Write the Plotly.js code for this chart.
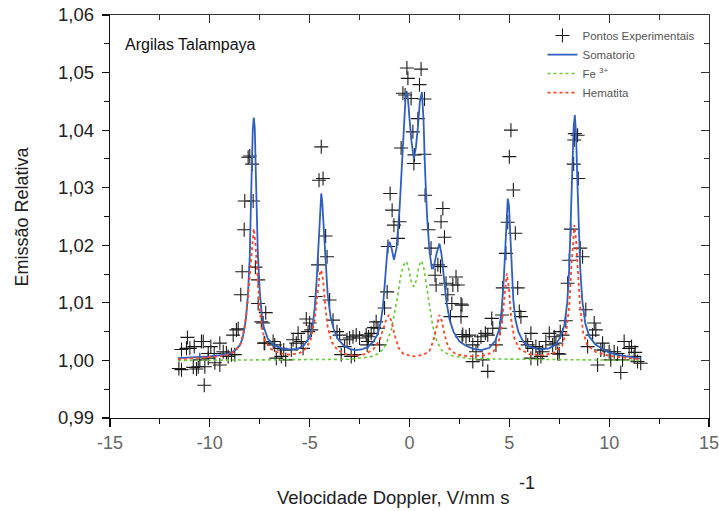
<!DOCTYPE html>
<html>
<head>
<meta charset="utf-8">
<script src="https://cdn.plot.ly/plotly-3.0.1.min.js"></script>
<style>html,body{margin:0;padding:0;background:#fff;}#chart{width:719px;height:511px;}</style>
</head>
<body>
<div id="chart"></div>
<script>
// Tick labels
const xTickVals = [-15,-10,-5,0,5,10,15];
const xTickText = ['-15','-10','-5','0','5','10','15'];

// Experimental points (velocity mm/s, relative emission)
const expV = [-8.08,-8.0,-7.88,-8.25,-7.83,-8.28,-8.38,-7.72,-7.58,-8.45,-7.58,-7.42,-7.28,-8.67,-8.83,-11.12,-11.42,-11.17,-11.0,-10.78,-10.42,-9.95,-9.5,-10.08,-9.78,-9.33,-9.08,-8.75,-11.55,-11.42,-10.83,-10.67,-10.58,-10.25,-9.75,-9.5,-10.5,-10.08,-10.28,-9.17,-8.92,-8.58,-10.33,
  -4.42,-4.53,-4.33,-4.2,-4.13,-4.58,-4.7,-4.0,-3.83,-7.2,-7.33,-7.25,-6.83,-6.75,-6.47,-6.3,-5.92,-6.67,-6.42,-6.2,-5.83,-5.58,-5.67,-5.42,-5.33,-5.17,-5.0,-4.92,-5.08,-3.63,-3.5,-3.13,-3.0,-3.25,-2.83,-2.67,-2.5,-2.17,-2.08,-3.42,-2.92,-2.75,
  -0.13,0.58,-0.08,0.5,-0.33,-0.22,0.08,0.75,0.42,0.17,-0.42,0.25,0.75,0.22,-0.97,-0.87,-0.78,-0.5,-0.58,-1.08,0.78,1.67,1.58,1.75,0.95,1.08,1.42,1.55,1.28,1.33,1.83,2.17,2.33,2.42,1.92,2.12,2.58,2.05,2.67,-1.12,-1.25,-1.67,-1.78,-1.58,-1.92,-2.05,-2.12,-1.5,
  5.08,5.0,5.2,4.92,5.3,4.83,4.67,5.42,4.63,5.5,5.58,4.53,4.33,4.12,4.17,3.92,3.8,3.58,3.42,3.17,3.0,2.83,2.63,2.63,2.58,3.33,3.17,3.67,3.92,5.83,5.92,6.08,6.17,6.33,6.5,6.58,6.67,6.83,7.0,7.17,7.42,6.08,6.42,
  8.28,8.42,8.25,8.22,8.45,8.08,8.55,8.67,8.0,7.92,8.83,7.83,7.55,7.67,7.25,7.33,7.5,9.25,9.33,9.17,8.92,9.67,9.75,10.0,10.25,10.42,9.58,9.42,10.08,10.58,10.75,11.0,11.12,10.67,11.25,11.42,11.58,11.3];
const expY = [1.0353,1.0355,1.0341,1.0277,1.0277,1.0227,1.0154,1.0162,1.0140,1.0114,1.0099,1.0067,1.0030,1.0053,1.0044,1.0040,1.0019,1.0021,1.0021,1.0024,1.0033,1.0024,1.0030,1.0012,1.0012,1.0015,1.0007,1.0010,0.9986,0.9984,0.9988,0.9985,0.9989,0.9989,0.9996,0.9992,1.0001,1.0004,0.9957,1.0013,1.0010,1.0055,1.0033,
  1.0371,1.0313,1.0316,1.0216,1.0180,1.0166,1.0111,1.0105,1.0070,1.0083,1.0065,1.0030,1.0033,1.0027,1.0021,1.0018,1.0018,1.0004,1.0007,1.0001,1.0036,1.0047,1.0030,1.0033,1.0021,1.0072,1.0065,1.0053,1.0050,1.0050,1.0044,1.0036,1.0039,1.0024,1.0041,1.0044,1.0039,1.0044,1.0033,1.0010,1.0007,1.0010,
  1.0508,1.0506,1.0490,1.0479,1.0464,1.0461,1.0455,1.0454,1.0420,1.0397,1.0369,1.0357,1.0358,1.0342,1.0290,1.0261,1.0235,1.0241,1.0212,1.0198,1.0287,1.0264,1.0241,1.0214,1.0227,1.0195,1.0166,1.0163,1.0148,1.0131,1.0134,1.0131,1.0145,1.0131,1.0114,1.0099,1.0098,1.0076,1.0045,1.0119,1.0091,1.0067,1.0057,1.0056,1.0047,1.0041,1.0027,1.0027,
  1.0400,1.0354,1.0296,1.0240,1.0221,1.0186,1.0126,1.0126,1.0079,1.0085,1.0076,1.0056,1.0027,1.0073,1.0056,1.0044,1.0047,1.0041,1.0033,1.0027,1.0044,1.0041,1.0041,1.0096,1.0076,1.0015,0.9998,1.0001,0.9981,1.0033,1.0027,1.0047,1.0021,1.0024,1.0021,1.0007,1.0015,1.0033,1.0047,1.0027,1.0012,1.0004,1.0003,
  1.0394,1.0391,1.0383,1.0341,1.0316,1.0228,1.0195,1.0180,1.0174,1.0134,1.0088,1.0069,1.0050,1.0044,1.0041,1.0030,1.0011,1.0065,1.0053,1.0044,1.0024,1.0030,1.0018,1.0015,1.0015,1.0012,1.0018,0.9992,1.0001,0.9979,1.0033,1.0021,1.0024,1.0001,1.0007,0.9998,0.9995,1.0014];

// Somatorio (total fit)
const sumV = [-11.6,-11.0,-10.0,-9.5,-9.0,-8.75,-8.5,-8.35,-8.2,-8.1,-8.0,-7.95,-7.9,-7.85,-7.8,-7.75,-7.7,-7.65,-7.6,-7.5,-7.4,-7.3,-7.1,-6.8,-6.4,-6.0,-5.6,-5.3,-5.0,-4.85,-4.75,-4.65,-4.55,-4.47,-4.42,-4.37,-4.28,-4.2,-4.1,-3.95,-3.8,-3.6,-3.3,-3.0,-2.7,-2.4,-2.1,-1.8,-1.6,-1.45,-1.33,-1.2,-1.1,-1.0,-0.9,-0.78,-0.65,-0.5,-0.4,-0.3,-0.2,-0.15,-0.08,0.0,0.1,0.22,0.32,0.42,0.52,0.62,0.7,0.78,0.88,1.0,1.12,1.2,1.35,1.5,1.6,1.72,1.85,2.0,2.2,2.5,2.8,3.2,3.6,4.0,4.3,4.5,4.62,4.72,4.8,4.86,4.92,4.98,5.05,5.12,5.2,5.3,5.45,5.7,6.0,6.5,7.0,7.3,7.55,7.75,7.9,8.0,8.08,8.15,8.22,8.28,8.34,8.4,8.47,8.55,8.65,8.8,9.0,9.3,9.7,10.0,10.5,11.0,11.6];
const sumY = [1.0004,1.0005,1.0007,1.0009,1.0012,1.0017,1.0026,1.0040,1.0070,1.0110,1.0180,1.0260,1.0340,1.0400,1.0422,1.0405,1.0330,1.0260,1.0190,1.0120,1.0080,1.0058,1.0038,1.0027,1.0021,1.0019,1.0020,1.0026,1.0040,1.0060,1.0090,1.0140,1.0210,1.0270,1.0290,1.0275,1.0220,1.0160,1.0115,1.0075,1.0055,1.0038,1.0026,1.0020,1.0018,1.0019,1.0023,1.0033,1.0045,1.0065,1.0093,1.0150,1.0195,1.0206,1.0195,1.0175,1.0195,1.0262,1.0330,1.0400,1.0455,1.0468,1.0455,1.0420,1.0380,1.0350,1.0370,1.0405,1.0450,1.0466,1.0420,1.0330,1.0250,1.0190,1.0160,1.0160,1.0185,1.0203,1.0185,1.0145,1.0102,1.0072,1.0050,1.0033,1.0026,1.0020,1.0018,1.0022,1.0034,1.0055,1.0090,1.0140,1.0200,1.0255,1.0281,1.0270,1.0210,1.0150,1.0105,1.0072,1.0050,1.0032,1.0024,1.0019,1.0021,1.0027,1.0040,1.0060,1.0100,1.0160,1.0250,1.0350,1.0405,1.0426,1.0395,1.0320,1.0240,1.0160,1.0105,1.0065,1.0042,1.0028,1.0019,1.0014,1.0009,1.0006,1.0003];

// Fe3+ component
const feV = [-11.6,-3.0,-2.0,-1.6,-1.3,-1.1,-0.9,-0.75,-0.6,-0.45,-0.3,-0.15,-0.05,0.1,0.22,0.35,0.48,0.6,0.72,0.85,1.0,1.15,1.35,1.6,2.0,3.0,11.6];
const feY = [1.0000,1.0002,1.0006,1.0011,1.0020,1.0035,1.0055,1.0080,1.0110,1.0145,1.0165,1.0172,1.0160,1.0135,1.0128,1.0140,1.0165,1.0173,1.0160,1.0130,1.0095,1.0062,1.0035,1.0018,1.0009,1.0003,1.0000];

// Hematita component
const hemV = [-11.6,-10.5,-9.5,-9.0,-8.7,-8.45,-8.3,-8.15,-8.0,-7.9,-7.8,-7.72,-7.62,-7.52,-7.4,-7.25,-7.0,-6.5,-6.0,-5.5,-5.2,-4.95,-4.75,-4.6,-4.5,-4.42,-4.33,-4.22,-4.1,-3.9,-3.6,-3.2,-2.7,-2.2,-1.8,-1.5,-1.3,-1.15,-1.03,-0.9,-0.75,-0.55,-0.3,0.2,0.7,1.0,1.2,1.35,1.5,1.62,1.75,1.95,2.3,3.0,3.8,4.2,4.45,4.62,4.75,4.87,4.98,5.1,5.25,5.5,6.0,6.7,7.3,7.65,7.85,8.0,8.12,8.2,8.26,8.34,8.43,8.55,8.7,8.9,9.3,10.0,11.0,11.6];
const hemY = [1.0002,1.0004,1.0007,1.0011,1.0017,1.0030,1.0050,1.0085,1.0150,1.0200,1.0229,1.0205,1.0150,1.0095,1.0058,1.0036,1.0021,1.0012,1.0010,1.0013,1.0020,1.0036,1.0070,1.0115,1.0150,1.0157,1.0140,1.0095,1.0058,1.0032,1.0018,1.0011,1.0008,1.0011,1.0020,1.0035,1.0055,1.0072,1.0079,1.0068,1.0045,1.0022,1.0011,1.0007,1.0010,1.0016,1.0035,1.0060,1.0079,1.0068,1.0045,1.0022,1.0011,1.0007,1.0009,1.0015,1.0030,1.0060,1.0110,1.0151,1.0125,1.0070,1.0038,1.0020,1.0011,1.0009,1.0014,1.0026,1.0050,1.0095,1.0170,1.0220,1.0235,1.0210,1.0150,1.0090,1.0048,1.0027,1.0015,1.0008,1.0004,1.0002];

const seriesNames = ['Pontos Experimentais','Somatorio','Fe <sup>3+</sup>','Hematita'];

const FONT = 'Liberation Sans, Arial, Helvetica, sans-serif';

const traces = [
  {x: expV, y: expY, type:'scatter', mode:'markers', name: seriesNames[0],
   marker:{symbol:'cross-thin-open', size:10, color:'#1a1a1a', line:{width:1.1, color:'#1a1a1a'}}},
  {x: sumV, y: sumY, type:'scatter', mode:'lines', name: seriesNames[1],
   line:{color:'#2f5fc0', width:1.8}},
  {x: feV, y: feY, type:'scatter', mode:'lines', name: seriesNames[2],
   line:{color:'#66cc33', width:1.6, dash:'dot'}},
  {x: hemV, y: hemY, type:'scatter', mode:'lines', name: seriesNames[3],
   line:{color:'#ff4422', width:1.8, dash:'dot'}},
  {x: [], y: [], xaxis:'x2', yaxis:'y2', type:'scatter', mode:'markers', showlegend:false, hoverinfo:'skip'}
];

const layout = {
  width:719, height:511,
  margin:{l:110, r:10, t:15, b:93},
  paper_bgcolor:'#fff', plot_bgcolor:'#fff',
  separators:', ',
  font:{family:FONT, color:'#222'},
  showlegend:true,
  legend:{x:0.722, y:0.985, xanchor:'left', yanchor:'top', bgcolor:'rgba(0,0,0,0)',
          font:{family:FONT, size:11.5, color:'#555'}, itemwidth:30, tracegroupgap:0},
  xaxis:{range:[-15,15], tickmode:'array', tickvals:xTickVals, ticktext:xTickText, ticks:'outside', ticklen:8, tickwidth:1.2, tickcolor:'#111',
         ticklabeloverflow:'allow',
         showline:true, linecolor:'#111', linewidth:1.3, showgrid:false, zeroline:false,
         tickfont:{family:FONT, size:18, color:'#666'},
         minor:{dtick:2.5, tick0:0, ticks:'outside', ticklen:5, tickwidth:1.1, tickcolor:'#111', showgrid:false}},
  yaxis:{range:[0.99,1.06], dtick:0.01, tick0:1, tickformat:'.2f', ticks:'outside', ticklen:7, tickwidth:1.2, tickcolor:'#111',
         ticklabelstandoff:4,
         showline:true, linecolor:'#111', linewidth:1.3, showgrid:false, zeroline:false,
         tickfont:{family:FONT, size:18.5, color:'#222'},
         minor:{dtick:0.005, ticks:'outside', ticklen:5, tickwidth:1.1, tickcolor:'#111', showgrid:false}},
  xaxis2:{overlaying:'x', side:'top', anchor:'y', range:[-15,15], dtick:5, tick0:0, ticks:'inside', ticklen:8, tickwidth:1.1, tickcolor:'#333',
          showline:true, linecolor:'#333', linewidth:1.2, showticklabels:false, showgrid:false, zeroline:false,
          minor:{dtick:2.5, ticks:'inside', ticklen:5, tickwidth:1, tickcolor:'#333', showgrid:false}},
  yaxis2:{overlaying:'y', side:'right', anchor:'x', range:[0.99,1.06], dtick:0.01, tick0:1, ticks:'inside', ticklen:8, tickwidth:1.1, tickcolor:'#333',
          showline:true, linecolor:'#333', linewidth:1.2, showticklabels:false, showgrid:false, zeroline:false,
          minor:{dtick:0.005, ticks:'inside', ticklen:5, tickwidth:1, tickcolor:'#333', showgrid:false}},
  annotations:[
    {text:'Argilas Talampaya', xref:'paper', yref:'paper', x:0.021, y:0.926, xanchor:'left', yanchor:'middle',
     showarrow:false, font:{family:FONT, size:16, color:'#111'}},
    {text:'Emissão Relativa', xref:'paper', yref:'paper', x:-0.147, y:0.50, xanchor:'center', yanchor:'middle',
     textangle:-90, showarrow:false, font:{family:FONT, size:18, color:'#222'}},
    {text:'Velocidade Doppler, V/mm s', xref:'paper', yref:'paper', x:(511-110)/599, y:-0.197, xanchor:'right', yanchor:'middle',
     showarrow:false, font:{family:FONT, size:18.5, color:'#222'}},
    {text:'-1', xref:'paper', yref:'paper', x:(517-110)/599, y:-0.162, xanchor:'left', yanchor:'middle',
     showarrow:false, font:{family:FONT, size:18, color:'#222'}}
  ]
};

Plotly.newPlot('chart', traces, layout, {displayModeBar:false, staticPlot:true});
</script>
</body>
</html>
